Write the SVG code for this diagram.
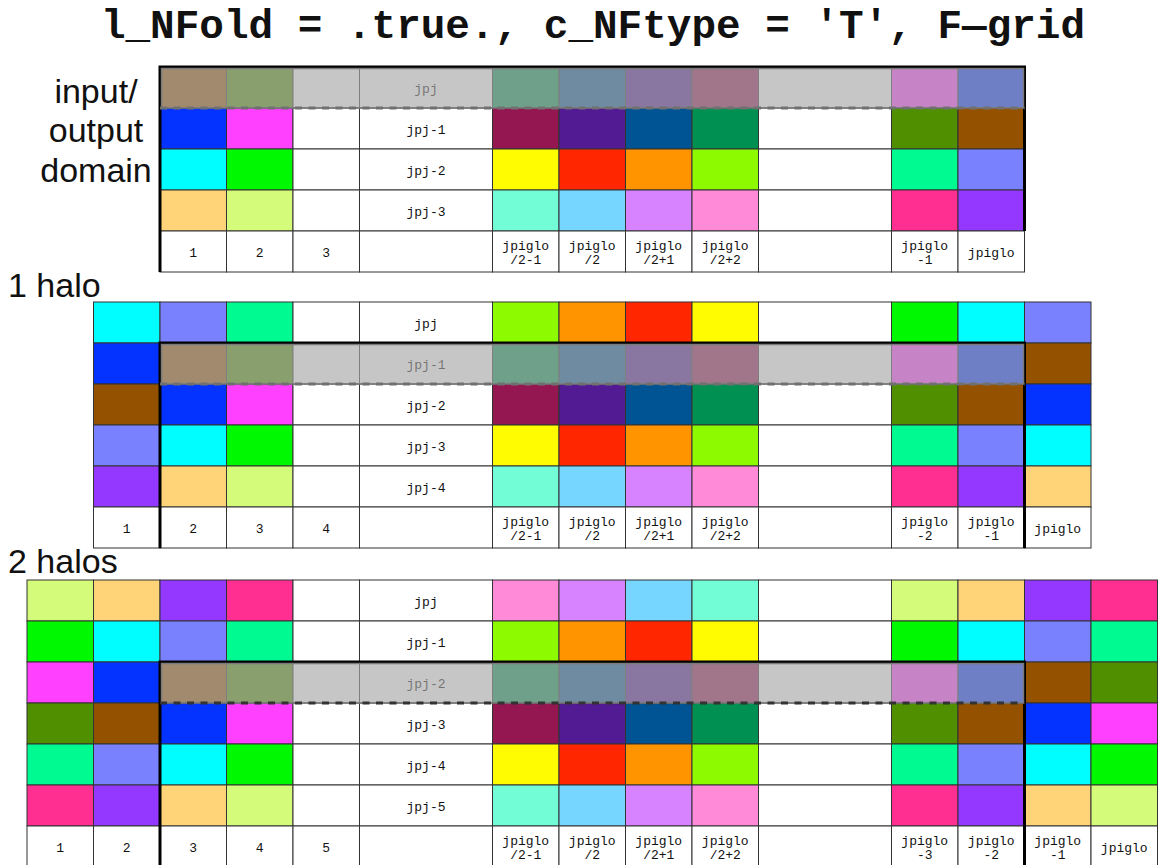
<svg xmlns="http://www.w3.org/2000/svg" width="1163" height="865" viewBox="0 0 1163 865">
<style>
rect.c{stroke:#333;stroke-width:1}
.w{fill:#fff}.mo{fill:#945200}.fe{fill:#4F8F00}.ms{fill:#009051}.oc{fill:#005493}.eg{fill:#531B93}.mr{fill:#941751}
.mg{fill:#FF40FF}.bl{fill:#0433FF}.cy{fill:#00FDFF}.gr{fill:#00F900}.ye{fill:#FFFB00}.rd{fill:#FF2600}.tg{fill:#FF9300}
.li{fill:#8EFA00}.sf{fill:#00FA92}.or{fill:#7A81FF}.ca{fill:#FFD479}.hd{fill:#D4FB79}.sp{fill:#73FDD6}.sk{fill:#76D6FF}
.lv{fill:#D783FF}.cn{fill:#FF8AD8}.st{fill:#FF2F92}.gp{fill:#9437FF}
text.t{font-family:"Liberation Mono","DejaVu Sans Mono",monospace;font-size:13px;fill:#111;text-anchor:middle}
text.lab{font-family:"Liberation Sans",Arial,sans-serif;font-size:34px;fill:#111}
.thick{fill:none;stroke:#000;stroke-width:3}
.ov{fill:#a8a8a8;fill-opacity:0.655;stroke:#7a7a7a;stroke-width:1.5}
.dash{stroke:#707070;stroke-width:3;stroke-dasharray:7 6.5;fill:none}
.dash2{stroke:#333;stroke-width:3;stroke-dasharray:7 6.5;fill:none}
</style>

<text x="593" y="38" font-family="Liberation Mono, DejaVu Sans Mono, monospace" font-size="41" font-weight="bold" text-anchor="middle" fill="#111">l_NFold = .true., c_NFtype = 'T', F—grid</text>

<g id="label-domain">
<text class="lab" x="96" y="103" text-anchor="middle">input/</text>
<text class="lab" x="96" y="142" text-anchor="middle">output</text>
<text class="lab" x="96" y="182" text-anchor="middle">domain</text>
</g>
<g id="label-1halo"><text class="lab" x="8" y="297">1 halo</text></g>
<g id="label-2halos"><text class="lab" x="8" y="573">2 halos</text></g>

<!-- Grid 1: input/output domain -->
<g id="grid-domain">
<g id="g1-row-jpj">
<rect class="c mo" x="160" y="67" width="66.5" height="41"/>
<rect class="c fe" x="226.5" y="67" width="66.5" height="41"/>
<rect class="c w" x="293" y="67" width="66.5" height="41"/>
<rect class="c w" x="359.5" y="67" width="133" height="41"/>
<rect class="c ms" x="492.5" y="67" width="66.5" height="41"/>
<rect class="c oc" x="559" y="67" width="66.5" height="41"/>
<rect class="c eg" x="625.5" y="67" width="66.5" height="41"/>
<rect class="c mr" x="692" y="67" width="66.5" height="41"/>
<rect class="c w" x="758.5" y="67" width="133" height="41"/>
<rect class="c mg" x="891.5" y="67" width="66.5" height="41"/>
<rect class="c bl" x="958" y="67" width="66.5" height="41"/>
<text class="t" x="426" y="93">jpj</text>
</g>
<g id="g1-row-jpj-1">
<rect class="c bl" x="160" y="108" width="66.5" height="41"/>
<rect class="c mg" x="226.5" y="108" width="66.5" height="41"/>
<rect class="c w" x="293" y="108" width="66.5" height="41"/>
<rect class="c w" x="359.5" y="108" width="133" height="41"/>
<rect class="c mr" x="492.5" y="108" width="66.5" height="41"/>
<rect class="c eg" x="559" y="108" width="66.5" height="41"/>
<rect class="c oc" x="625.5" y="108" width="66.5" height="41"/>
<rect class="c ms" x="692" y="108" width="66.5" height="41"/>
<rect class="c w" x="758.5" y="108" width="133" height="41"/>
<rect class="c fe" x="891.5" y="108" width="66.5" height="41"/>
<rect class="c mo" x="958" y="108" width="66.5" height="41"/>
<text class="t" x="426" y="134">jpj-1</text>
</g>
<g id="g1-row-jpj-2">
<rect class="c cy" x="160" y="149" width="66.5" height="41"/>
<rect class="c gr" x="226.5" y="149" width="66.5" height="41"/>
<rect class="c w" x="293" y="149" width="66.5" height="41"/>
<rect class="c w" x="359.5" y="149" width="133" height="41"/>
<rect class="c ye" x="492.5" y="149" width="66.5" height="41"/>
<rect class="c rd" x="559" y="149" width="66.5" height="41"/>
<rect class="c tg" x="625.5" y="149" width="66.5" height="41"/>
<rect class="c li" x="692" y="149" width="66.5" height="41"/>
<rect class="c w" x="758.5" y="149" width="133" height="41"/>
<rect class="c sf" x="891.5" y="149" width="66.5" height="41"/>
<rect class="c or" x="958" y="149" width="66.5" height="41"/>
<text class="t" x="426" y="175">jpj-2</text>
</g>
<g id="g1-row-jpj-3">
<rect class="c ca" x="160" y="190" width="66.5" height="41"/>
<rect class="c hd" x="226.5" y="190" width="66.5" height="41"/>
<rect class="c w" x="293" y="190" width="66.5" height="41"/>
<rect class="c w" x="359.5" y="190" width="133" height="41"/>
<rect class="c sp" x="492.5" y="190" width="66.5" height="41"/>
<rect class="c sk" x="559" y="190" width="66.5" height="41"/>
<rect class="c lv" x="625.5" y="190" width="66.5" height="41"/>
<rect class="c cn" x="692" y="190" width="66.5" height="41"/>
<rect class="c w" x="758.5" y="190" width="133" height="41"/>
<rect class="c st" x="891.5" y="190" width="66.5" height="41"/>
<rect class="c gp" x="958" y="190" width="66.5" height="41"/>
<text class="t" x="426" y="216">jpj-3</text>
</g>
<g id="g1-row-index">
<rect class="c w" x="160" y="231" width="66.5" height="41"/>
<rect class="c w" x="226.5" y="231" width="66.5" height="41"/>
<rect class="c w" x="293" y="231" width="66.5" height="41"/>
<rect class="c w" x="359.5" y="231" width="133" height="41"/>
<rect class="c w" x="492.5" y="231" width="66.5" height="41"/>
<rect class="c w" x="559" y="231" width="66.5" height="41"/>
<rect class="c w" x="625.5" y="231" width="66.5" height="41"/>
<rect class="c w" x="692" y="231" width="66.5" height="41"/>
<rect class="c w" x="758.5" y="231" width="133" height="41"/>
<rect class="c w" x="891.5" y="231" width="66.5" height="41"/>
<rect class="c w" x="958" y="231" width="66.5" height="41"/>
<text class="t" x="193.25" y="257">1</text>
<text class="t" x="259.75" y="257">2</text>
<text class="t" x="326.25" y="257">3</text>
<text class="t" x="525.75" y="250">jpiglo</text><text class="t" x="525.75" y="264">/2-1</text>
<text class="t" x="592.25" y="250">jpiglo</text><text class="t" x="592.25" y="264">/2</text>
<text class="t" x="658.75" y="250">jpiglo</text><text class="t" x="658.75" y="264">/2+1</text>
<text class="t" x="725.25" y="250">jpiglo</text><text class="t" x="725.25" y="264">/2+2</text>
<text class="t" x="924.75" y="250">jpiglo</text><text class="t" x="924.75" y="264">-1</text>
<text class="t" x="991.25" y="257">jpiglo</text>
</g>
<path class="thick" d="M160,272 V67 H1024.5 V231"/>
<rect class="ov" x="161.5" y="68.5" width="862" height="39.5"/>
<path class="dash" d="M160,108 H1024.5"/>
</g>

<!-- Grid 2: 1 halo -->
<g id="grid-1halo">
<g id="g2-row-jpj">
<rect class="c cy" x="93.5" y="302" width="66.5" height="41"/>
<rect class="c or" x="160" y="302" width="66.5" height="41"/>
<rect class="c sf" x="226.5" y="302" width="66.5" height="41"/>
<rect class="c w" x="293" y="302" width="66.5" height="41"/>
<rect class="c w" x="359.5" y="302" width="133" height="41"/>
<rect class="c li" x="492.5" y="302" width="66.5" height="41"/>
<rect class="c tg" x="559" y="302" width="66.5" height="41"/>
<rect class="c rd" x="625.5" y="302" width="66.5" height="41"/>
<rect class="c ye" x="692" y="302" width="66.5" height="41"/>
<rect class="c w" x="758.5" y="302" width="133" height="41"/>
<rect class="c gr" x="891.5" y="302" width="66.5" height="41"/>
<rect class="c cy" x="958" y="302" width="66.5" height="41"/>
<rect class="c or" x="1024.5" y="302" width="66.5" height="41"/>
<text class="t" x="426" y="328">jpj</text>
</g>
<g id="g2-row-jpj-1">
<rect class="c bl" x="93.5" y="343" width="66.5" height="41"/>
<rect class="c mo" x="160" y="343" width="66.5" height="41"/>
<rect class="c fe" x="226.5" y="343" width="66.5" height="41"/>
<rect class="c w" x="293" y="343" width="66.5" height="41"/>
<rect class="c w" x="359.5" y="343" width="133" height="41"/>
<rect class="c ms" x="492.5" y="343" width="66.5" height="41"/>
<rect class="c oc" x="559" y="343" width="66.5" height="41"/>
<rect class="c eg" x="625.5" y="343" width="66.5" height="41"/>
<rect class="c mr" x="692" y="343" width="66.5" height="41"/>
<rect class="c w" x="758.5" y="343" width="133" height="41"/>
<rect class="c mg" x="891.5" y="343" width="66.5" height="41"/>
<rect class="c bl" x="958" y="343" width="66.5" height="41"/>
<rect class="c mo" x="1024.5" y="343" width="66.5" height="41"/>
<text class="t" x="426" y="369">jpj-1</text>
</g>
<g id="g2-row-jpj-2">
<rect class="c mo" x="93.5" y="384" width="66.5" height="41"/>
<rect class="c bl" x="160" y="384" width="66.5" height="41"/>
<rect class="c mg" x="226.5" y="384" width="66.5" height="41"/>
<rect class="c w" x="293" y="384" width="66.5" height="41"/>
<rect class="c w" x="359.5" y="384" width="133" height="41"/>
<rect class="c mr" x="492.5" y="384" width="66.5" height="41"/>
<rect class="c eg" x="559" y="384" width="66.5" height="41"/>
<rect class="c oc" x="625.5" y="384" width="66.5" height="41"/>
<rect class="c ms" x="692" y="384" width="66.5" height="41"/>
<rect class="c w" x="758.5" y="384" width="133" height="41"/>
<rect class="c fe" x="891.5" y="384" width="66.5" height="41"/>
<rect class="c mo" x="958" y="384" width="66.5" height="41"/>
<rect class="c bl" x="1024.5" y="384" width="66.5" height="41"/>
<text class="t" x="426" y="410">jpj-2</text>
</g>
<g id="g2-row-jpj-3">
<rect class="c or" x="93.5" y="425" width="66.5" height="41"/>
<rect class="c cy" x="160" y="425" width="66.5" height="41"/>
<rect class="c gr" x="226.5" y="425" width="66.5" height="41"/>
<rect class="c w" x="293" y="425" width="66.5" height="41"/>
<rect class="c w" x="359.5" y="425" width="133" height="41"/>
<rect class="c ye" x="492.5" y="425" width="66.5" height="41"/>
<rect class="c rd" x="559" y="425" width="66.5" height="41"/>
<rect class="c tg" x="625.5" y="425" width="66.5" height="41"/>
<rect class="c li" x="692" y="425" width="66.5" height="41"/>
<rect class="c w" x="758.5" y="425" width="133" height="41"/>
<rect class="c sf" x="891.5" y="425" width="66.5" height="41"/>
<rect class="c or" x="958" y="425" width="66.5" height="41"/>
<rect class="c cy" x="1024.5" y="425" width="66.5" height="41"/>
<text class="t" x="426" y="451">jpj-3</text>
</g>
<g id="g2-row-jpj-4">
<rect class="c gp" x="93.5" y="466" width="66.5" height="41"/>
<rect class="c ca" x="160" y="466" width="66.5" height="41"/>
<rect class="c hd" x="226.5" y="466" width="66.5" height="41"/>
<rect class="c w" x="293" y="466" width="66.5" height="41"/>
<rect class="c w" x="359.5" y="466" width="133" height="41"/>
<rect class="c sp" x="492.5" y="466" width="66.5" height="41"/>
<rect class="c sk" x="559" y="466" width="66.5" height="41"/>
<rect class="c lv" x="625.5" y="466" width="66.5" height="41"/>
<rect class="c cn" x="692" y="466" width="66.5" height="41"/>
<rect class="c w" x="758.5" y="466" width="133" height="41"/>
<rect class="c st" x="891.5" y="466" width="66.5" height="41"/>
<rect class="c gp" x="958" y="466" width="66.5" height="41"/>
<rect class="c ca" x="1024.5" y="466" width="66.5" height="41"/>
<text class="t" x="426" y="492">jpj-4</text>
</g>
<g id="g2-row-index">
<rect class="c w" x="93.5" y="507" width="66.5" height="41"/>
<rect class="c w" x="160" y="507" width="66.5" height="41"/>
<rect class="c w" x="226.5" y="507" width="66.5" height="41"/>
<rect class="c w" x="293" y="507" width="66.5" height="41"/>
<rect class="c w" x="359.5" y="507" width="133" height="41"/>
<rect class="c w" x="492.5" y="507" width="66.5" height="41"/>
<rect class="c w" x="559" y="507" width="66.5" height="41"/>
<rect class="c w" x="625.5" y="507" width="66.5" height="41"/>
<rect class="c w" x="692" y="507" width="66.5" height="41"/>
<rect class="c w" x="758.5" y="507" width="133" height="41"/>
<rect class="c w" x="891.5" y="507" width="66.5" height="41"/>
<rect class="c w" x="958" y="507" width="66.5" height="41"/>
<rect class="c w" x="1024.5" y="507" width="66.5" height="41"/>
<text class="t" x="126.75" y="533">1</text>
<text class="t" x="193.25" y="533">2</text>
<text class="t" x="259.75" y="533">3</text>
<text class="t" x="326.25" y="533">4</text>
<text class="t" x="525.75" y="526">jpiglo</text><text class="t" x="525.75" y="540">/2-1</text>
<text class="t" x="592.25" y="526">jpiglo</text><text class="t" x="592.25" y="540">/2</text>
<text class="t" x="658.75" y="526">jpiglo</text><text class="t" x="658.75" y="540">/2+1</text>
<text class="t" x="725.25" y="526">jpiglo</text><text class="t" x="725.25" y="540">/2+2</text>
<text class="t" x="924.75" y="526">jpiglo</text><text class="t" x="924.75" y="540">-2</text>
<text class="t" x="991.25" y="526">jpiglo</text><text class="t" x="991.25" y="540">-1</text>
<text class="t" x="1057.75" y="533">jpiglo</text>
</g>
<path class="thick" d="M160,548 V343 H1024.5 V548"/>
<rect class="ov" x="161.5" y="344.5" width="862" height="39.5"/>
<path class="dash" d="M160,384 H1024.5"/>
</g>

<!-- Grid 3: 2 halos -->
<g id="grid-2halos">
<g id="g3-row-jpj">
<rect class="c hd" x="27" y="580" width="66.5" height="41"/>
<rect class="c ca" x="93.5" y="580" width="66.5" height="41"/>
<rect class="c gp" x="160" y="580" width="66.5" height="41"/>
<rect class="c st" x="226.5" y="580" width="66.5" height="41"/>
<rect class="c w" x="293" y="580" width="66.5" height="41"/>
<rect class="c w" x="359.5" y="580" width="133" height="41"/>
<rect class="c cn" x="492.5" y="580" width="66.5" height="41"/>
<rect class="c lv" x="559" y="580" width="66.5" height="41"/>
<rect class="c sk" x="625.5" y="580" width="66.5" height="41"/>
<rect class="c sp" x="692" y="580" width="66.5" height="41"/>
<rect class="c w" x="758.5" y="580" width="133" height="41"/>
<rect class="c hd" x="891.5" y="580" width="66.5" height="41"/>
<rect class="c ca" x="958" y="580" width="66.5" height="41"/>
<rect class="c gp" x="1024.5" y="580" width="66.5" height="41"/>
<rect class="c st" x="1091" y="580" width="66.5" height="41"/>
<text class="t" x="426" y="606">jpj</text>
</g>
<g id="g3-row-jpj-1">
<rect class="c gr" x="27" y="621" width="66.5" height="41"/>
<rect class="c cy" x="93.5" y="621" width="66.5" height="41"/>
<rect class="c or" x="160" y="621" width="66.5" height="41"/>
<rect class="c sf" x="226.5" y="621" width="66.5" height="41"/>
<rect class="c w" x="293" y="621" width="66.5" height="41"/>
<rect class="c w" x="359.5" y="621" width="133" height="41"/>
<rect class="c li" x="492.5" y="621" width="66.5" height="41"/>
<rect class="c tg" x="559" y="621" width="66.5" height="41"/>
<rect class="c rd" x="625.5" y="621" width="66.5" height="41"/>
<rect class="c ye" x="692" y="621" width="66.5" height="41"/>
<rect class="c w" x="758.5" y="621" width="133" height="41"/>
<rect class="c gr" x="891.5" y="621" width="66.5" height="41"/>
<rect class="c cy" x="958" y="621" width="66.5" height="41"/>
<rect class="c or" x="1024.5" y="621" width="66.5" height="41"/>
<rect class="c sf" x="1091" y="621" width="66.5" height="41"/>
<text class="t" x="426" y="647">jpj-1</text>
</g>
<g id="g3-row-jpj-2">
<rect class="c mg" x="27" y="662" width="66.5" height="41"/>
<rect class="c bl" x="93.5" y="662" width="66.5" height="41"/>
<rect class="c mo" x="160" y="662" width="66.5" height="41"/>
<rect class="c fe" x="226.5" y="662" width="66.5" height="41"/>
<rect class="c w" x="293" y="662" width="66.5" height="41"/>
<rect class="c w" x="359.5" y="662" width="133" height="41"/>
<rect class="c ms" x="492.5" y="662" width="66.5" height="41"/>
<rect class="c oc" x="559" y="662" width="66.5" height="41"/>
<rect class="c eg" x="625.5" y="662" width="66.5" height="41"/>
<rect class="c mr" x="692" y="662" width="66.5" height="41"/>
<rect class="c w" x="758.5" y="662" width="133" height="41"/>
<rect class="c mg" x="891.5" y="662" width="66.5" height="41"/>
<rect class="c bl" x="958" y="662" width="66.5" height="41"/>
<rect class="c mo" x="1024.5" y="662" width="66.5" height="41"/>
<rect class="c fe" x="1091" y="662" width="66.5" height="41"/>
<text class="t" x="426" y="688">jpj-2</text>
</g>
<g id="g3-row-jpj-3">
<rect class="c fe" x="27" y="703" width="66.5" height="41"/>
<rect class="c mo" x="93.5" y="703" width="66.5" height="41"/>
<rect class="c bl" x="160" y="703" width="66.5" height="41"/>
<rect class="c mg" x="226.5" y="703" width="66.5" height="41"/>
<rect class="c w" x="293" y="703" width="66.5" height="41"/>
<rect class="c w" x="359.5" y="703" width="133" height="41"/>
<rect class="c mr" x="492.5" y="703" width="66.5" height="41"/>
<rect class="c eg" x="559" y="703" width="66.5" height="41"/>
<rect class="c oc" x="625.5" y="703" width="66.5" height="41"/>
<rect class="c ms" x="692" y="703" width="66.5" height="41"/>
<rect class="c w" x="758.5" y="703" width="133" height="41"/>
<rect class="c fe" x="891.5" y="703" width="66.5" height="41"/>
<rect class="c mo" x="958" y="703" width="66.5" height="41"/>
<rect class="c bl" x="1024.5" y="703" width="66.5" height="41"/>
<rect class="c mg" x="1091" y="703" width="66.5" height="41"/>
<text class="t" x="426" y="729">jpj-3</text>
</g>
<g id="g3-row-jpj-4">
<rect class="c sf" x="27" y="744" width="66.5" height="41"/>
<rect class="c or" x="93.5" y="744" width="66.5" height="41"/>
<rect class="c cy" x="160" y="744" width="66.5" height="41"/>
<rect class="c gr" x="226.5" y="744" width="66.5" height="41"/>
<rect class="c w" x="293" y="744" width="66.5" height="41"/>
<rect class="c w" x="359.5" y="744" width="133" height="41"/>
<rect class="c ye" x="492.5" y="744" width="66.5" height="41"/>
<rect class="c rd" x="559" y="744" width="66.5" height="41"/>
<rect class="c tg" x="625.5" y="744" width="66.5" height="41"/>
<rect class="c li" x="692" y="744" width="66.5" height="41"/>
<rect class="c w" x="758.5" y="744" width="133" height="41"/>
<rect class="c sf" x="891.5" y="744" width="66.5" height="41"/>
<rect class="c or" x="958" y="744" width="66.5" height="41"/>
<rect class="c cy" x="1024.5" y="744" width="66.5" height="41"/>
<rect class="c gr" x="1091" y="744" width="66.5" height="41"/>
<text class="t" x="426" y="770">jpj-4</text>
</g>
<g id="g3-row-jpj-5">
<rect class="c st" x="27" y="785" width="66.5" height="41"/>
<rect class="c gp" x="93.5" y="785" width="66.5" height="41"/>
<rect class="c ca" x="160" y="785" width="66.5" height="41"/>
<rect class="c hd" x="226.5" y="785" width="66.5" height="41"/>
<rect class="c w" x="293" y="785" width="66.5" height="41"/>
<rect class="c w" x="359.5" y="785" width="133" height="41"/>
<rect class="c sp" x="492.5" y="785" width="66.5" height="41"/>
<rect class="c sk" x="559" y="785" width="66.5" height="41"/>
<rect class="c lv" x="625.5" y="785" width="66.5" height="41"/>
<rect class="c cn" x="692" y="785" width="66.5" height="41"/>
<rect class="c w" x="758.5" y="785" width="133" height="41"/>
<rect class="c st" x="891.5" y="785" width="66.5" height="41"/>
<rect class="c gp" x="958" y="785" width="66.5" height="41"/>
<rect class="c ca" x="1024.5" y="785" width="66.5" height="41"/>
<rect class="c hd" x="1091" y="785" width="66.5" height="41"/>
<text class="t" x="426" y="811">jpj-5</text>
</g>
<g id="g3-row-index">
<rect class="c w" x="27" y="826" width="66.5" height="41"/>
<rect class="c w" x="93.5" y="826" width="66.5" height="41"/>
<rect class="c w" x="160" y="826" width="66.5" height="41"/>
<rect class="c w" x="226.5" y="826" width="66.5" height="41"/>
<rect class="c w" x="293" y="826" width="66.5" height="41"/>
<rect class="c w" x="359.5" y="826" width="133" height="41"/>
<rect class="c w" x="492.5" y="826" width="66.5" height="41"/>
<rect class="c w" x="559" y="826" width="66.5" height="41"/>
<rect class="c w" x="625.5" y="826" width="66.5" height="41"/>
<rect class="c w" x="692" y="826" width="66.5" height="41"/>
<rect class="c w" x="758.5" y="826" width="133" height="41"/>
<rect class="c w" x="891.5" y="826" width="66.5" height="41"/>
<rect class="c w" x="958" y="826" width="66.5" height="41"/>
<rect class="c w" x="1024.5" y="826" width="66.5" height="41"/>
<rect class="c w" x="1091" y="826" width="66.5" height="41"/>
<text class="t" x="60.25" y="852">1</text>
<text class="t" x="126.75" y="852">2</text>
<text class="t" x="193.25" y="852">3</text>
<text class="t" x="259.75" y="852">4</text>
<text class="t" x="326.25" y="852">5</text>
<text class="t" x="525.75" y="845">jpiglo</text><text class="t" x="525.75" y="859">/2-1</text>
<text class="t" x="592.25" y="845">jpiglo</text><text class="t" x="592.25" y="859">/2</text>
<text class="t" x="658.75" y="845">jpiglo</text><text class="t" x="658.75" y="859">/2+1</text>
<text class="t" x="725.25" y="845">jpiglo</text><text class="t" x="725.25" y="859">/2+2</text>
<text class="t" x="924.75" y="845">jpiglo</text><text class="t" x="924.75" y="859">-3</text>
<text class="t" x="991.25" y="845">jpiglo</text><text class="t" x="991.25" y="859">-2</text>
<text class="t" x="1057.75" y="845">jpiglo</text><text class="t" x="1057.75" y="859">-1</text>
<text class="t" x="1124.25" y="852">jpiglo</text>
</g>
<path class="thick" d="M160,867 V662 H1024.5 V867"/>
<rect class="ov" x="161.5" y="663.5" width="862" height="39.5"/>
<path class="dash2" d="M160,703 H1024.5"/>
</g>
</svg>
